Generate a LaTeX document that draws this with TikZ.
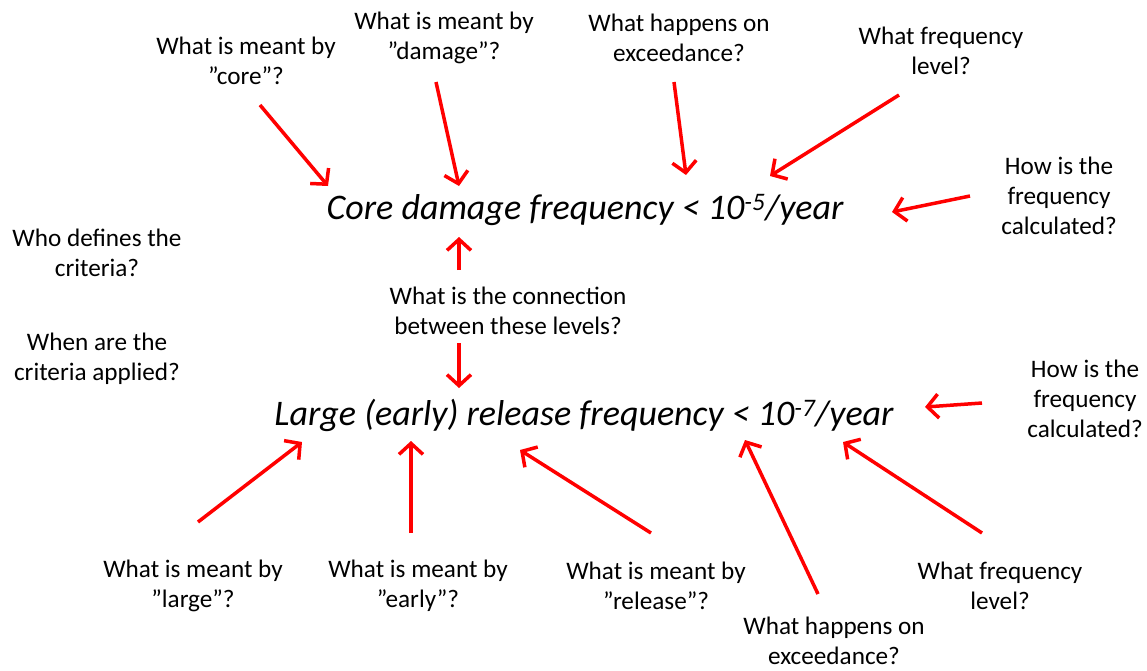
\documentclass[tikz,border=0pt]{standalone}
\usepackage{fontspec}
\setmainfont{Carlito}
\usetikzlibrary{arrows.meta,calc}

\tikzset{
  quest/.style={align=center, inner sep=1pt, font=\fontsize{25.2}{30}\selectfont},
  crit/.style={inner sep=1pt, font=\fontsize{36}{40}\selectfont\itshape},
  qarrow/.style={red, line width=3.5pt, -{Straight Barb[length=11pt,width=24pt]}}
}

\begin{document}
\begin{tikzpicture}[x=1pt,y=-1pt]
\useasboundingbox (0,0) rectangle (1147,670);
% criteria
\node[crit] (core) at (585,210) {Core damage frequency < 10\textsuperscript{-5}/year};
\node[crit] (release) at (584,415) {Large (early) release frequency < 10\textsuperscript{-7}/year};
% questions, top
\node[quest] (qcore) at (246,61) {What is meant by\\”core”?};
\node[quest] (qdamage) at (444,38) {What is meant by\\”damage”?};
\node[quest] (qexceed) at (679,38) {What happens on\\exceedance?};
\node[quest] (qfreq) at (941,51) {What frequency\\level?};
\node[quest] (qcalc) at (1059,196) {How is the\\frequency\\calculated?};
% questions, left and middle
\node[quest] (qwho) at (97,253) {Who defines the\\criteria?};
\node[quest] (qwhen) at (97,359) {When are the\\criteria applied?};
\node[quest] (qconn) at (508,311) {What is the connection\\between these levels?};
% questions, bottom
\node[quest] (qcalclow) at (1085,399) {How is the\\frequency\\calculated?};
\node[quest] (qlarge) at (193,586) {What is meant by\\”large”?};
\node[quest] (qearly) at (418,586) {What is meant by\\”early”?};
\node[quest] (qrelease) at (656,586) {What is meant by\\”release”?};
\node[quest] (qexceedlow) at (834,641) {What happens on\\exceedance?};
\node[quest] (qfreqlow) at (1000,586) {What frequency\\level?};
% arrows to core damage
\draw[qarrow] ([shift={(14,44)}]qcore.center) -- ([shift={(-257,-24)}]core.center);
\draw[qarrow] ([shift={(-8,44)}]qdamage.center) -- ([shift={(-126,-24)}]core.center);
\draw[qarrow] ([shift={(-5,44)}]qexceed.center) -- ([shift={(101,-35)}]core.center);
\draw[qarrow] ([shift={(-42,44)}]qfreq.center) -- ([shift={(185,-34)}]core.center);
\draw[qarrow] ([shift={(-89,0)}]qcalc.center) -- ([shift={(307,2)}]core.center);
% connection
\draw[qarrow] ([shift={(-49,-41)}]qconn.center) -- ([shift={(-126,27)}]core.center);
\draw[qarrow] ([shift={(-49,32)}]qconn.center) -- ([shift={(-125,-27)}]release.center);
% arrows to release
\draw[qarrow] ([shift={(-103,4)}]qcalclow.center) -- ([shift={(341,-8)}]release.center);
\draw[qarrow] ([shift={(5,-64)}]qlarge.center) -- ([shift={(-282,27)}]release.center);
\draw[qarrow] ([shift={(-7,-53)}]qearly.center) -- ([shift={(-173,26)}]release.center);
\draw[qarrow] ([shift={(-5,-53)}]qrelease.center) -- ([shift={(-64,35)}]release.center);
\draw[qarrow] ([shift={(-16,-47)}]qexceedlow.center) -- ([shift={(161,25)}]release.center);
\draw[qarrow] ([shift={(-18,-53)}]qfreqlow.center) -- ([shift={(259,27)}]release.center);
\end{tikzpicture}
\end{document}
